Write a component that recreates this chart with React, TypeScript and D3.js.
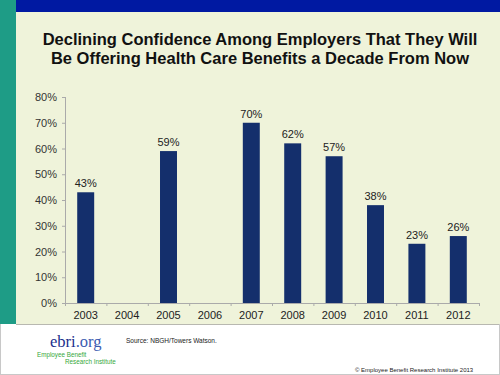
import React from "react";
import * as d3 from "d3";

const years = ["2003", "2004", "2005", "2006", "2007", "2008", "2009", "2010", "2011", "2012"];
const values: (number | null)[] = [43, null, 59, null, 70, 62, 57, 38, 23, 26];
const yTicks = [0, 10, 20, 30, 40, 50, 60, 70, 80];
const titleLines = [
  "Declining Confidence Among Employers That They Will",
  "Be Offering Health Care Benefits a Decade From Now",
];

export default function App() {
  const W = 500, H = 375;
  const x0 = 65, x1 = 479, yTop = 97, yBot = 303;
  const x = d3.scaleBand<string>().domain(years).range([x0, x1]).paddingInner(0.59).paddingOuter(0.295);
  const y = d3.scaleLinear().domain([0, 80]).range([yBot, yTop]);
  const step = (x1 - x0) / years.length;
  const font = "Liberation Sans, Arial, sans-serif";
  return (
    <svg width={W} height={H} style={{ position: "absolute", left: 0, top: 0 }}>
      <rect x={0} y={0} width={W} height={H} fill="#ffffff" />
      <rect x={16} y={12} width={W - 16} height={312} fill="#EFF3DA" />
      <rect x={0} y={0} width={16} height={324} fill="#1E9C86" />
      <rect x={16} y={0} width={W - 16} height={12} fill="#0019A2" />
      <line x1={16} x2={W} y1={324.5} y2={324.5} stroke="#B8B8B0" strokeWidth={1} />
      <line x1={499.5} x2={499.5} y1={324} y2={H} stroke="#C8C8C8" strokeWidth={1} />
      <line x1={0} x2={W} y1={374.5} y2={374.5} stroke="#C8C8C8" strokeWidth={1} />
      <line x1={0.5} x2={0.5} y1={324} y2={H} stroke="#C8C8C8" strokeWidth={1} />
      {titleLines.map((t, i) => (
        <text key={i} x={260} y={45 + i * 18.5} textAnchor="middle" fontFamily={font} fontWeight="bold" fontSize={16.5} fill="#111">
          {t}
        </text>
      ))}
      {/* y axis */}
      <line x1={x0 + 0.5} x2={x0 + 0.5} y1={yTop} y2={yBot} stroke="#AAAAAA" />
      {yTicks.map((t) => (
        <g key={t}>
          <line x1={x0 - 3} x2={x0} y1={y(t) + 0.5} y2={y(t) + 0.5} stroke="#AAAAAA" />
          <text x={57} y={y(t) + 4} textAnchor="end" fontFamily={font} fontSize={11} fill="#333">
            {t}%
          </text>
        </g>
      ))}
      {/* x axis */}
      <line x1={x0} x2={x1} y1={yBot + 0.5} y2={yBot + 0.5} stroke="#AAAAAA" />
      {d3.range(years.length + 1).map((i) => (
        <line key={i} x1={x0 + i * step + 0.5} x2={x0 + i * step + 0.5} y1={yBot} y2={yBot + 3} stroke="#AAAAAA" />
      ))}
      {years.map((yr, i) => {
        const v = values[i];
        const bx = x(yr)!;
        const cx = bx + x.bandwidth() / 2;
        return (
          <g key={yr}>
            {v !== null && (
              <>
                <rect x={bx} y={y(v)} width={x.bandwidth()} height={yBot - y(v)} fill="#142F6C" />
                <text x={cx} y={y(v) - 5} textAnchor="middle" fontFamily={font} fontSize={11} fill="#222">
                  {v}%
                </text>
              </>
            )}
            <text x={cx} y={319} textAnchor="middle" fontFamily={font} fontSize={11} fill="#222">
              {yr}
            </text>
          </g>
        );
      })}
      {/* footer */}
      <text x={50} y={347} fontFamily="Liberation Serif, Times New Roman, serif" fontSize={16.5} fill="#1B2F8C">
        ebri<tspan fill="#3A5BB0">.org</tspan>
      </text>
      <text x={37} y={356.5} fontFamily={font} fontSize={6.3} fill="#35A83A">Employee Benefit</text>
      <text x={65} y={364} fontFamily={font} fontSize={6.3} fill="#35A83A">Research Institute</text>
      <text x={126} y={343} fontFamily={font} fontSize={6.5} fill="#222">Source: NBGH/Towers Watson.</text>
      <text x={355} y={372} fontFamily={font} fontSize={6} fill="#222">© Employee Benefit Research Institute 2013</text>
    </svg>
  );
}
